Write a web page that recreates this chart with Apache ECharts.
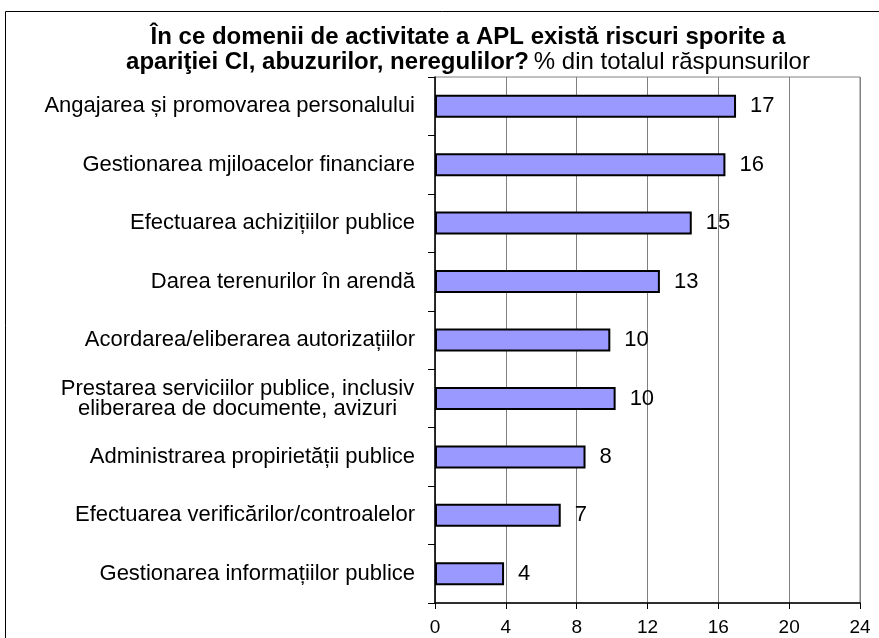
<!DOCTYPE html>
<html>
  <head>
    <meta charset="utf-8">
    <title>Riscuri APL</title>
    <script src="https://cdn.jsdelivr.net/npm/echarts@6/dist/echarts.min.js"></script>
    <style>
      html, body { margin: 0; padding: 0; background: #fff; }
      #chart { width: 879px; height: 638px; }
    </style>
  </head>
  <body>
    <div id="chart"></div>
    <script>
      // categories, top to bottom
      var domains = [
        'Angajarea și promovarea personalului',
        'Gestionarea mjiloacelor financiare',
        'Efectuarea achizițiilor publice',
        'Darea terenurilor în arendă',
        'Acordarea/eliberarea autorizațiilor',
        'Prestarea serviciilor publice, inclusiv\neliberarea de documente, avizuri',
        'Administrarea propirietății publice',
        'Efectuarea verificărilor/controalelor',
        'Gestionarea informațiilor publice'
      ];
      // bar lengths as drawn, and the rounded numbers printed next to them
      var shares = [17.0, 16.4, 14.5, 12.7, 9.9, 10.2, 8.5, 7.1, 3.9];
      var shareLabels = [17, 16, 15, 13, 10, 10, 8, 7, 4];
      var xTicks = [0, 4, 8, 12, 16, 20, 24];

      var chart = echarts.init(document.getElementById('chart'));
      var font = '"Liberation Sans", Arial, sans-serif';

      chart.setOption({
        backgroundColor: '#fff',
        animation: false,
        title: {
          text: '{b|În ce domenii de activitate a APL există riscuri sporite a}\n' +
                '{b|apariţiei CI, abuzurilor, neregulilor?} {n|% din totalul răspunsurilor}',
          left: 463,
          top: 20,
          textAlign: 'center',
          textStyle: {
            fontWeight: 'normal',
            rich: {
              b: { fontFamily: font, fontSize: 24, fontWeight: 'bold', color: '#000', lineHeight: 25 },
              n: { fontFamily: font, fontSize: 24, fontWeight: 'normal', color: '#000', lineHeight: 25 }
            }
          }
        },
        graphic: [{
          type: 'rect',
          shape: { x: 5.5, y: 11.5, width: 900, height: 700 },
          style: { fill: null, stroke: '#000', lineWidth: 1 },
          silent: true
        }],
        grid: {
          left: 435, right: 19, top: 77, bottom: 35,
          show: true, borderColor: '#808080', borderWidth: 1
        },
        xAxis: {
          type: 'value',
          min: xTicks[0],
          max: xTicks[xTicks.length - 1],
          interval: 4,
          axisLine: { show: true, lineStyle: { color: '#000', width: 1.5 } },
          axisTick: { show: true, length: 6, lineStyle: { color: '#000' } },
          axisLabel: { fontFamily: font, fontSize: 19, color: '#000', margin: 15 },
          splitLine: { show: true, lineStyle: { color: '#808080', width: 1 } }
        },
        yAxis: {
          type: 'category',
          data: domains,
          inverse: true,
          axisLine: { show: true, lineStyle: { color: '#000', width: 1.5 } },
          axisTick: { show: true, length: 7, lineStyle: { color: '#000' } },
          axisLabel: {
            fontFamily: font, fontSize: 22, color: '#000', margin: 20,
            align: 'right', lineHeight: 20,
            // wrapped labels are centred line by line, like the original
            formatter: function (v) {
              if (v.indexOf('\n') < 0) return v;
              return v.split('\n').map(function (s) { return '{c|' + s + '}'; }).join('\n');
            },
            rich: {
              c: { fontFamily: font, fontSize: 22, color: '#000', lineHeight: 20, width: 355, align: 'center' }
            }
          },
          splitLine: { show: false }
        },
        series: [{
          type: 'bar',
          data: shares,
          barWidth: 23,
          itemStyle: { color: '#9999FF', borderColor: '#000', borderWidth: 2 },
          label: {
            show: true,
            position: 'right',
            distance: 14,
            fontFamily: font,
            fontSize: 22,
            color: '#000',
            formatter: function (p) { return shareLabels[p.dataIndex]; }
          }
        }]
      });
    </script>
  </body>
</html>
